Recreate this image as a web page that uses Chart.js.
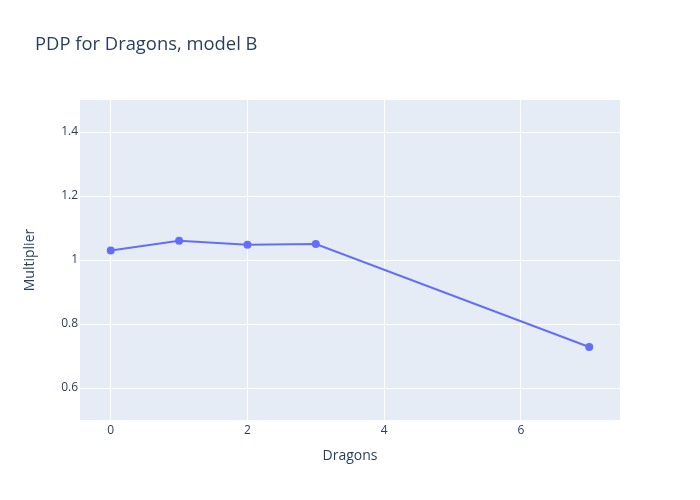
<!DOCTYPE html>
<html>
<head>
<meta charset="utf-8">
<script src="https://cdn.jsdelivr.net/npm/chart.js@4"></script>
<style>
  html, body { margin: 0; padding: 0; background: #fff; }
  #wrap { width: 700px; height: 500px; }
</style>
</head>
<body>
<div id="wrap"><canvas id="pdpChart" width="700" height="500"></canvas></div>
<script>
// ===== DATA =====
const dragons = [0, 1, 2, 3, 7];
const multiplier = [1.030, 1.060, 1.048, 1.050, 0.728];
const xTicks = [0, 2, 4, 6];
const yTicks = [0.6, 0.8, 1, 1.2, 1.4];

const textColor = '#2a3f5f';
const fontFamily = '"Open Sans", "Liberation Sans", sans-serif';

// plot background + title, plotly style
const plotBg = {
    id: 'plotBg',
    beforeDraw(chart) {
        const { ctx, chartArea: a } = chart;
        ctx.save();
        ctx.fillStyle = '#e5ecf6';
        ctx.fillRect(a.left, a.top, a.right - a.left, a.bottom - a.top);
        ctx.restore();
    },
    afterDraw(chart) {
        const ctx = chart.ctx;
        ctx.save();
        ctx.font = '18.4px ' + fontFamily;
        ctx.fillStyle = textColor;
        ctx.textBaseline = 'middle';
        ctx.textAlign = 'left';
        ctx.fillText('PDP for Dragons, model B', 35, 45);
        ctx.restore();
    }
};

new Chart(document.getElementById('pdpChart'), {
    type: 'line',
    data: {
        datasets: [{
            label: 'model B',
            data: dragons.map((d, i) => ({ x: d, y: multiplier[i] })),
            borderColor: '#636efa',
            backgroundColor: '#636efa',
            borderWidth: 2,
            pointRadius: 3,
            pointHoverRadius: 3,
            tension: 0
        }]
    },
    options: {
        responsive: false,
        animation: false,
        layout: { padding: { top: 100, right: 80, left: 0, bottom: 0 } },
        plugins: {
            legend: { display: false },
            tooltip: { enabled: false }
        },
        scales: {
            x: {
                type: 'linear',
                min: -0.45, max: 7.45,
                afterBuildTicks: s => { s.ticks = xTicks.map(v => ({ value: v })); },
                afterFit: s => { s.height = 80; },
                ticks: { color: textColor, font: { family: fontFamily, size: 12 }, padding: 3, callback: v => String(v) },
                grid: { color: '#ffffff', lineWidth: 1, drawTicks: false },
                border: { display: false },
                title: { display: true, text: 'Dragons', color: textColor, font: { family: fontFamily, size: 14 }, padding: { top: 0, bottom: 35.6 } }
            },
            y: {
                min: 0.5, max: 1.5,
                afterBuildTicks: s => { s.ticks = yTicks.map(v => ({ value: v })); },
                afterFit: s => { s.width = 80; },
                ticks: { color: textColor, font: { family: fontFamily, size: 12 }, padding: 2, callback: v => String(v) },
                grid: { color: '#ffffff', lineWidth: 1, drawTicks: false },
                border: { display: false },
                title: { display: true, text: 'Multiplier', color: textColor, font: { family: fontFamily, size: 14 }, padding: { top: 21.6, bottom: 0 } }
            }
        }
    },
    plugins: [plotBg]
});
</script>
</body>
</html>
